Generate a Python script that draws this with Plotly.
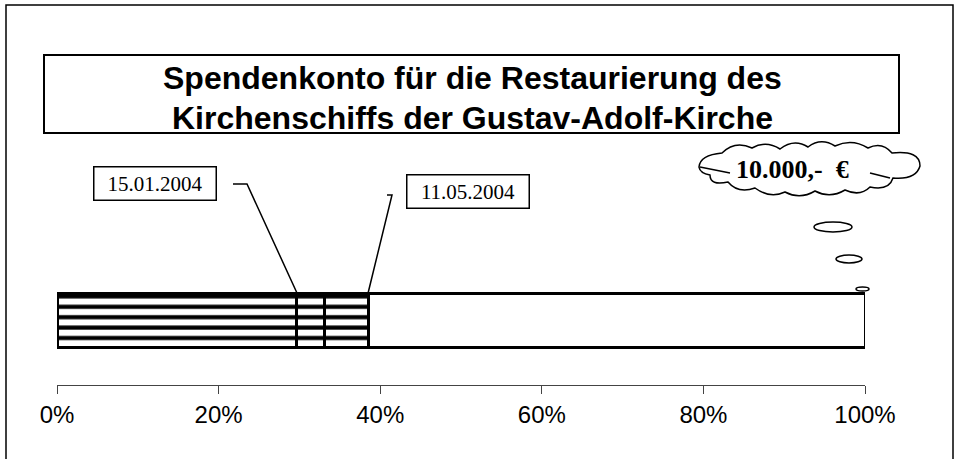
import plotly.graph_objects as go

# ---------------- data ----------------
category = ["Spendenkonto"]
segment_names = ["bis 15.01.2004", "15.01.2004", "bis 11.05.2004", "noch offen"]
segment_values = [29.7, 3.4, 5.4, 61.5]          # percent of 10.000 EUR
segment_hatched = [True, True, True, False]
date_labels = ["15.01.2004", "11.05.2004"]
date_boundary_after = [0, 2]                      # boundary after segment index
goal_label = "10.000,-  €"
tick_values = [0, 20, 40, 60, 80, 100]
tick_labels = ["0%", "20%", "40%", "60%", "80%", "100%"]
title_lines = ["Spendenkonto für die Restaurierung des",
               "Kirchenschiffs der Gustav-Adolf-Kirche"]

# ---------------- layout geometry ----------------
W, H = 958, 459
L, R, T, B = 57, 93, 0, 74
PW, PH = W - L - R, H - T - B
BAR_CENTER, BAR_PX = 320, 54
BAR_WIDTH = 0.6
unit = BAR_PX / BAR_WIDTH

def fx(x):  # pixel -> paper x
    return (x - L) / PW

def fy(y):  # pixel -> paper y
    return (PH + T - y) / PH

def dx(x):  # pixel -> data x
    return (x - L) / PW * 100

def path(points, close=False):
    s = "M " + " L ".join(f"{fx(x):.5f},{fy(y):.5f}" for x, y in points)
    return s + (" Z" if close else "")

SANS = "Liberation Sans, Arial, sans-serif"
SERIF = "Liberation Serif, Times New Roman, serif"

fig = go.Figure()
for name, val, hat in zip(segment_names, segment_values, segment_hatched):
    marker = dict(color="white", line=dict(color="black", width=3))
    if hat:
        marker["pattern"] = dict(shape="-", fgcolor="black", bgcolor="white",
                                 size=10.4, solidity=0.4, fillmode="replace")
    fig.add_trace(go.Bar(y=category, x=[val], name=name, orientation="h",
                         width=BAR_WIDTH, marker=marker, showlegend=False,
                         hoverinfo="name+x"))

shapes = []
# outer frame
shapes.append(dict(type="rect", xref="paper", yref="paper",
                   x0=fx(6), x1=fx(953), y0=fy(5), y1=fy(480),
                   line=dict(color="black", width=1.5), layer="below"))
# title box
shapes.append(dict(type="rect", xref="paper", yref="paper",
                   x0=fx(44), x1=fx(899), y0=fy(55), y1=fy(133),
                   line=dict(color="black", width=2), fillcolor="white"))

# leader lines from date boxes to segment boundaries
cum = []
s = 0
for v in segment_values:
    s += v
    cum.append(s)
bar_top = fy(BAR_CENTER - BAR_PX / 2)
leader_starts = [((233, 184), (247, 184)), ((387, 195), (392, 195))]
for (p0, p1), idx in zip(leader_starts, date_boundary_after):
    xe = cum[idx]
    shapes.append(dict(type="path", xref="x", yref="paper",
                       path=f"M {dx(p0[0]):.4f},{fy(p0[1]):.5f} L {dx(p1[0]):.4f},{fy(p1[1]):.5f} L {xe:.4f},{bar_top:.5f}",
                       line=dict(color="black", width=1.5)))

# cloud callout
cloud_pts = [
    (699, 167), ("Q", 700, 155, 722, 153), ("Q", 735, 140, 752, 148),
    ("Q", 766, 140, 780, 149), ("Q", 794, 138, 808, 147), ("Q", 821, 137, 835, 146),
    ("Q", 852, 138, 868, 148), ("Q", 882, 141, 892, 153), ("Q", 920, 150, 920, 166),
    ("Q", 916, 180, 893, 178), ("Q", 889, 191, 870, 187), ("Q", 860, 197, 845, 190),
    ("Q", 830, 199, 815, 191), ("Q", 800, 200, 785, 192), ("Q", 770, 199, 755, 188),
    ("Q", 738, 194, 728, 182), ("Q", 710, 186, 710, 175), ("Q", 700, 173, 699, 167),
]
cp = f"M {fx(cloud_pts[0][0]):.5f},{fy(cloud_pts[0][1]):.5f}"
for seg in cloud_pts[1:]:
    _, cx, cy, ex, ey = seg
    cp += f" Q {fx(cx):.5f},{fy(cy):.5f} {fx(ex):.5f},{fy(ey):.5f}"
cp += " Z"
shapes.append(dict(type="path", xref="paper", yref="paper", path=cp,
                   fillcolor="white", line=dict(color="black", width=1.5)))
shapes.append(dict(type="path", xref="paper", yref="paper",
                   path=path([(700, 167), (730, 173)]),
                   line=dict(color="black", width=1.5)))
shapes.append(dict(type="path", xref="paper", yref="paper",
                   path=path([(870, 173), (890, 178)]),
                   line=dict(color="black", width=1.5)))
# thought bubbles
for x0, x1, y0, y1 in [(814, 852, 222, 232), (836, 862, 255, 263), (856, 869, 287, 291)]:
    shapes.append(dict(type="circle", xref="paper", yref="paper",
                       x0=fx(x0), x1=fx(x1), y0=fy(y1), y1=fy(y0),
                       fillcolor="white", line=dict(color="black", width=1.5)))

annotations = []
for txt, cy in zip(title_lines, [78, 118]):
    annotations.append(dict(text=f"<b>{txt}</b>", xref="paper", yref="paper",
                            x=fx(472), y=fy(cy), xanchor="center", yanchor="middle",
                            showarrow=False, font=dict(family=SANS, size=32, color="black")))
for txt, (cx, cy) in zip(date_labels, [(155, 183.5), (468.5, 191)]):
    annotations.append(dict(text=txt, xref="paper", yref="paper",
                            x=fx(cx), y=fy(cy), xanchor="center", yanchor="middle",
                            showarrow=False, width=121, height=32, borderpad=0,
                            bordercolor="black", borderwidth=1.5, bgcolor="white",
                            font=dict(family=SERIF, size=21, color="black")))
annotations.append(dict(text=f"<b>{goal_label}</b>", xref="paper", yref="paper",
                        x=fx(792), y=fy(169), xanchor="center", yanchor="middle",
                        showarrow=False, font=dict(family=SERIF, size=26, color="black")))

fig.update_layout(
    width=W, height=H,
    margin=dict(l=L, r=R, t=T, b=B, pad=0),
    barmode="stack",
    paper_bgcolor="white", plot_bgcolor="white",
    shapes=shapes, annotations=annotations,
    xaxis=dict(range=[0, 100], tickvals=tick_values, ticktext=tick_labels,
               showline=True, linecolor="#444", linewidth=1.2,
               ticks="outside", ticklen=8, tickcolor="#444", tickwidth=1,
               showgrid=False, zeroline=False, fixedrange=True, automargin=False,
               tickfont=dict(family=SANS, size=24, color="black"),
               ticklabelstandoff=0),
    yaxis=dict(visible=False, range=[-(PH + T - BAR_CENTER) / unit, (BAR_CENTER - T) / unit],
               fixedrange=True),
    showlegend=False,
)
fig.write_html("out.html", config={"displayModeBar": False},
               post_script="document.body.style.margin='0';document.body.style.overflow='hidden';")
